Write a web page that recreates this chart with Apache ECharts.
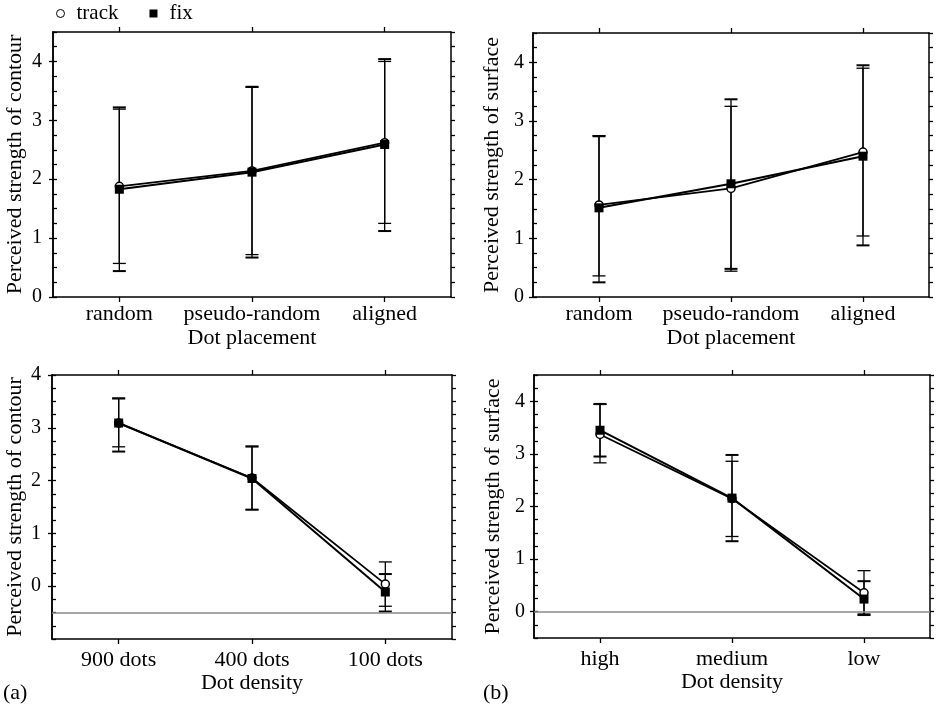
<!DOCTYPE html>
<html>
<head>
<meta charset="utf-8">
<script src="https://cdn.jsdelivr.net/npm/echarts@6/dist/echarts.min.js"></script>
<style>
html,body{margin:0;padding:0;background:#fff;}
#chart{width:937px;height:706px;}
</style>
</head>
<body>
<div id="chart"></div>
<script>
// ---------- categories & tick labels ----------
const placementCats = ['random', 'pseudo-random', 'aligned'];
const densityCatsA = ['900 dots', '400 dots', '100 dots'];
const densityCatsB = ['high', 'medium', 'low'];
const yTickLabels = [0, 1, 2, 3, 4];

// ---------- (a) top: contour vs dot placement ----------
const contourPlaceTrack     = [1.88, 2.14, 2.62];
const contourPlaceTrackLow  = [0.57, 0.72, 1.25];
const contourPlaceTrackHigh = [3.19, 3.56, 4.00];
const contourPlaceFix       = [1.83, 2.12, 2.59];
const contourPlaceFixLow    = [0.44, 0.67, 1.12];
const contourPlaceFixHigh   = [3.22, 3.57, 4.04];

// ---------- (b) top: surface vs dot placement ----------
const surfacePlaceTrack     = [1.57, 1.85, 2.47];
const surfacePlaceTrackLow  = [0.36, 0.44, 1.04];
const surfacePlaceTrackHigh = [2.75, 3.25, 3.90];
const surfacePlaceFix       = [1.52, 1.93, 2.40];
const surfacePlaceFixLow    = [0.25, 0.48, 0.88];
const surfacePlaceFixHigh   = [2.74, 3.37, 3.95];

// ---------- (a) bottom: contour vs dot density ----------
const contourDensTrack     = [3.09, 2.05, 0.04];
const contourDensTrackLow  = [2.64, 1.45, -0.38];
const contourDensTrackHigh = [3.55, 2.64, 0.46];
const contourDensFix       = [3.09, 2.04, -0.11];
const contourDensFixLow    = [2.55, 1.45, -0.48];
const contourDensFixHigh   = [3.56, 2.65, 0.23];

// ---------- (b) bottom: surface vs dot density ----------
const surfaceDensTrack     = [3.37, 2.15, 0.36];
const surfaceDensTrackLow  = [2.83, 1.43, -0.07];
const surfaceDensTrackHigh = [3.94, 2.86, 0.78];
const surfaceDensFix       = [3.45, 2.16, 0.24];
const surfaceDensFixLow    = [2.95, 1.34, -0.05];
const surfaceDensFixHigh   = [3.95, 2.98, 0.58];

// reference lines
const refLineContourDens = [-0.5];
const refLineSurfaceDens = [0];

// ---------- layout ----------
const FONT = 'Liberation Serif';
const panels = [
  {grid:{left:53, top:32, width:398, height:265}, cats:placementCats, yMin:0, yMax:4.5,
   yName:'Perceived strength of contour', xName:'Dot placement', yNameGap:27, yLabelMargin:11, xLabelMargin:6, xNameGap:30,
   track:contourPlaceTrack, trackLo:contourPlaceTrackLow, trackHi:contourPlaceTrackHigh,
   fix:contourPlaceFix, fixLo:contourPlaceFixLow, fixHi:contourPlaceFixHigh, ref:null},
  {grid:{left:533, top:33, width:396, height:264}, cats:placementCats, yMin:0, yMax:4.5,
   yName:'Perceived strength of surface', xName:'Dot placement', yNameGap:30, yLabelMargin:9, xLabelMargin:6, xNameGap:30,
   track:surfacePlaceTrack, trackLo:surfacePlaceTrackLow, trackHi:surfacePlaceTrackHigh,
   fix:surfacePlaceFix, fixLo:surfacePlaceFixLow, fixHi:surfacePlaceFixHigh, ref:null},
  {grid:{left:52, top:375, width:400, height:264}, cats:densityCatsA, yMin:-1, yMax:4,
   yName:'Perceived strength of contour', xName:'Dot density', yNameGap:26, yLabelMargin:11, xLabelMargin:10, xNameGap:33,
   track:contourDensTrack, trackLo:contourDensTrackLow, trackHi:contourDensTrackHigh,
   fix:contourDensFix, fixLo:contourDensFixLow, fixHi:contourDensFixHigh, ref:refLineContourDens},
  {grid:{left:534, top:375, width:396, height:263}, cats:densityCatsB, yMin:-0.5, yMax:4.5,
   yName:'Perceived strength of surface', xName:'Dot density', yNameGap:30, yLabelMargin:9, xLabelMargin:10, xNameGap:33,
   track:surfaceDensTrack, trackLo:surfaceDensTrackLow, trackHi:surfaceDensTrackHigh,
   fix:surfaceDensFix, fixLo:surfaceDensFixLow, fixHi:surfaceDensFixHigh, ref:refLineSurfaceDens}
];

function makeErrRender(capW, capLW) {
  return function (params, api) {
    const x = api.value(0), lo = api.value(1), hi = api.value(2);
    const a = api.coord([x, lo]), b = api.coord([x, hi]);
    return {type:'group', children:[
      {type:'line', shape:{x1:a[0], y1:a[1], x2:b[0], y2:b[1]}, style:{stroke:'#000', lineWidth:1.3}},
      {type:'line', shape:{x1:a[0]-capW, y1:a[1], x2:a[0]+capW, y2:a[1]}, style:{stroke:'#000', lineWidth:capLW}},
      {type:'line', shape:{x1:b[0]-capW, y1:b[1], x2:b[0]+capW, y2:b[1]}, style:{stroke:'#000', lineWidth:capLW}}
    ]};
  };
}

const grids = [], xAxes = [], yAxes = [], series = [];
const axisLineStyle = {color:'#000', width:1.5};

panels.forEach((p, i) => {
  grids.push(Object.assign({containLabel:false}, p.grid));
  // bottom x
  xAxes.push({type:'category', gridIndex:i, data:p.cats, position:'bottom', boundaryGap:true,
    axisLine:{show:true, onZero:false, lineStyle:axisLineStyle},
    axisTick:{show:true, alignWithLabel:true, length:5, inside:false, lineStyle:{color:'#000', width:1.3}},
    axisLabel:{color:'#000', fontFamily:FONT, fontSize:22, margin:p.xLabelMargin, interval:0, hideOverlap:false},
    name:p.xName, nameLocation:'middle', nameGap:p.xNameGap,
    nameTextStyle:{color:'#000', fontFamily:FONT, fontSize:22},
    splitLine:{show:false}});
  // top x (frame)
  xAxes.push({type:'category', gridIndex:i, data:p.cats, position:'top', boundaryGap:true,
    axisLine:{show:true, onZero:false, lineStyle:axisLineStyle},
    axisTick:{show:true, alignWithLabel:true, interval:0, length:5, inside:false, lineStyle:{color:'#000', width:1.3}},
    axisLabel:{show:false, interval:0}, splitLine:{show:false}});
  // left y with labels and outward major ticks
  yAxes.push({type:'value', gridIndex:i, position:'left', min:p.yMin, max:p.yMax,
    axisLine:{show:true, onZero:false, lineStyle:axisLineStyle},
    axisTick:{show:true, inside:false, length:4, customValues:yTickLabels, lineStyle:{color:'#000', width:1.3}},
    axisLabel:{show:true, customValues:yTickLabels, color:'#000', fontFamily:FONT, fontSize:20, margin:p.yLabelMargin},
    name:p.yName, nameLocation:'middle', nameGap:p.yNameGap,
    nameTextStyle:{color:'#000', fontFamily:FONT, fontSize:22},
    splitLine:{show:false}});
  // left y inside fine ticks
  yAxes.push({type:'value', gridIndex:i, position:'left', min:p.yMin, max:p.yMax, interval:0.25,
    axisLine:{show:true, onZero:false, lineStyle:axisLineStyle},
    axisTick:{show:true, inside:true, length:4, lineStyle:{color:'#000', width:1.3}},
    axisLabel:{show:false}, splitLine:{show:false}});
  // right y outward fine ticks
  yAxes.push({type:'value', gridIndex:i, position:'right', min:p.yMin, max:p.yMax, interval:0.25,
    axisLine:{show:true, onZero:false, lineStyle:axisLineStyle},
    axisTick:{show:true, inside:false, length:4, lineStyle:{color:'#000', width:1.3}},
    axisLabel:{show:false}, splitLine:{show:false}});

  const xi = 2 * i, yi = 3 * i;
  series.push({type:'custom', name:'track', xAxisIndex:xi, yAxisIndex:yi, z:2,
    renderItem:makeErrRender(6.5, 1.3),
    encode:{x:0, y:[1, 2]},
    data:p.trackLo.map((lo, k) => [k, lo, p.trackHi[k]])});
  series.push({type:'custom', name:'fix', xAxisIndex:xi, yAxisIndex:yi, z:2,
    renderItem:makeErrRender(6.5, 2),
    encode:{x:0, y:[1, 2]},
    data:p.fixLo.map((lo, k) => [k, lo, p.fixHi[k]])});
  const fixSeries = {type:'line', name:'fix', xAxisIndex:xi, yAxisIndex:yi, z:4,
    data:p.fix, symbol:'rect', symbolSize:9,
    itemStyle:{color:'#000'}, lineStyle:{color:'#000', width:2}};
  if (p.ref) {
    fixSeries.markLine = {silent:true, symbol:['none', 'none'], label:{show:false},
      lineStyle:{color:'#888', width:1.5, type:'solid'},
      data:p.ref.map(v => ({yAxis:v}))};
  }
  series.push({type:'line', name:'track', xAxisIndex:xi, yAxisIndex:yi, z:3,
    data:p.track, symbol:'circle', symbolSize:8,
    itemStyle:{color:'#fff', borderColor:'#000', borderWidth:1.5},
    lineStyle:{color:'#000', width:1.8}});
  series.push(fixSeries);
});

const chart = echarts.init(document.getElementById('chart'), null, {renderer:'canvas'});
chart.setOption({
  animation:false,
  backgroundColor:'#fff',
  legend:{left:51, top:-2, itemWidth:8, itemHeight:8, itemGap:31,
    textStyle:{color:'#000', fontFamily:FONT, fontSize:21, padding:[0, 0, 0, 7]},
    data:[
      {name:'track', icon:'circle', itemStyle:{color:'#fff', borderColor:'#000', borderWidth:1}},
      {name:'fix', icon:'rect', itemStyle:{color:'#000'}}
    ]},
  graphic:[
    {type:'text', left:3, top:682, style:{text:'(a)', font:'22px "Liberation Serif"', fill:'#000'}},
    {type:'text', left:483, top:682, style:{text:'(b)', font:'22px "Liberation Serif"', fill:'#000'}}
  ],
  grid:grids, xAxis:xAxes, yAxis:yAxes, series:series
});
</script>
</body>
</html>
